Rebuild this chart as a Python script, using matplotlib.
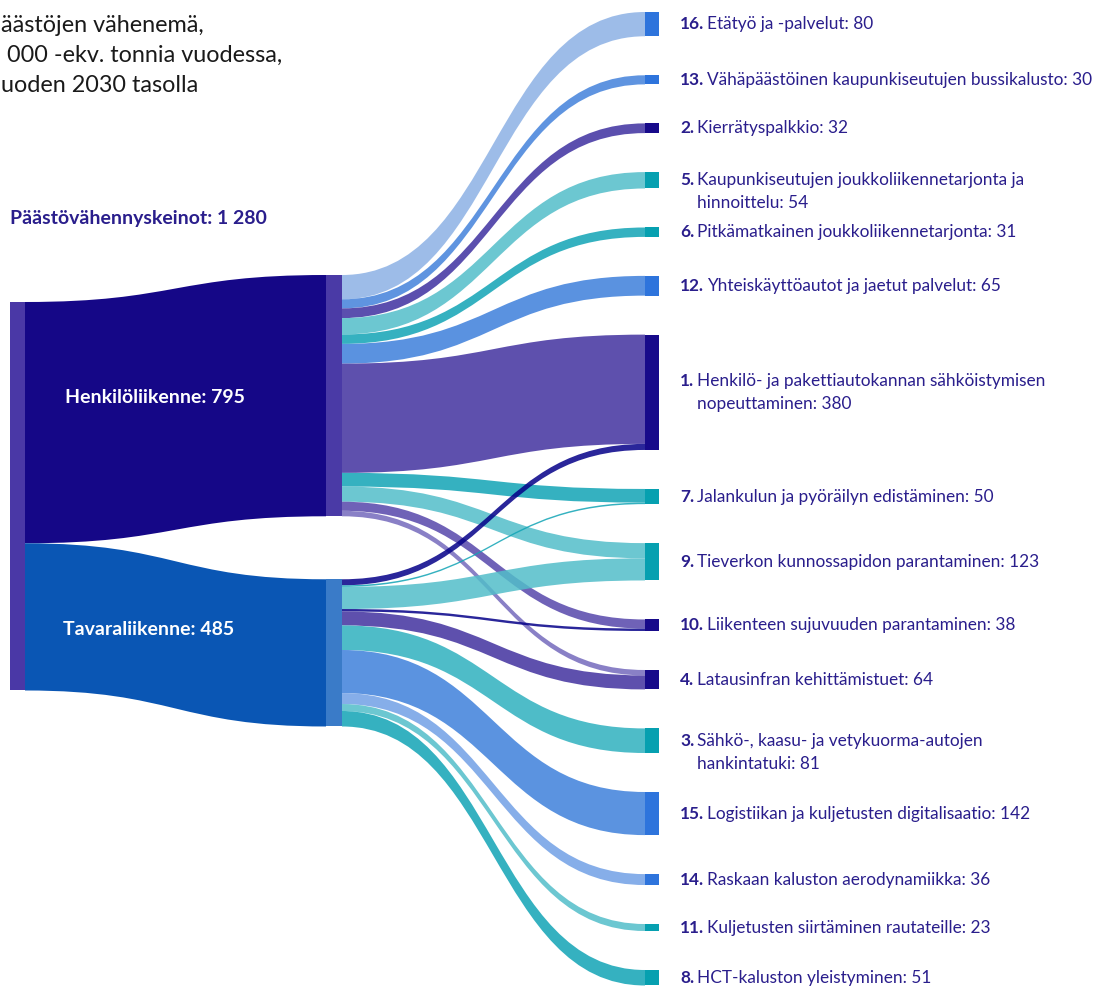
#!/usr/bin/env python
import numpy as np
import matplotlib.pyplot as plt
from matplotlib.path import Path
from matplotlib.patches import PathPatch, Rectangle
from matplotlib.colors import to_rgb

# Data
root_name = "Päästövähennyskeinot"
group_names = ["Henkilöliikenne", "Tavaraliikenne"]

measure_nums = [16, 13, 2, 5, 6, 12, 1, 7, 9, 10, 4, 3, 15, 14, 11, 8]
measure_names = [
    "Etätyö ja -palvelut",
    "Vähäpäästöinen kaupunkiseutujen bussikalusto",
    "Kierrätyspalkkio",
    "Kaupunkiseutujen joukkoliikennetarjonta ja\nhinnoittelu",
    "Pitkämatkainen joukkoliikennetarjonta",
    "Yhteiskäyttöautot ja jaetut palvelut",
    "Henkilö- ja pakettiautokannan sähköistymisen\nnopeuttaminen",
    "Jalankulun ja pyöräilyn edistäminen",
    "Tieverkon kunnossapidon parantaminen",
    "Liikenteen sujuvuuden parantaminen",
    "Latausinfran kehittämistuet",
    "Sähkö-, kaasu- ja vetykuorma-autojen\nhankintatuki",
    "Logistiikan ja kuljetusten digitalisaatio",
    "Raskaan kaluston aerodynamiikka",
    "Kuljetusten siirtäminen rautateille",
    "HCT-kaluston yleistyminen",
]
henkilo_flows = [80, 30, 32, 54, 31, 65, 360, 45, 50, 30, 18, 0, 0, 0, 0, 0]
tavara_flows = [0, 0, 0, 0, 0, 0, 20, 5, 73, 8, 46, 81, 142, 36, 23, 51]

intro_lines = ["äästöjen vähenemä,", " 000 -ekv. tonnia vuodessa,", "uoden 2030 tasolla"]

# colours
navy = "#170a8a"
blue = "#2e74dc"
teal = "#06a0b0"
node_colors = [blue, blue, navy, teal, teal, blue, navy, teal, teal, navy, navy,
               teal, blue, blue, teal, teal]
henkilo_colors = ["#9dbde9", "#5f95e0", "#5b4fae", "#6cc7d1", "#35b2c0", "#5a92e0",
                  "#5e50ad", "#35b2c0", "#6cc7d1", "#6f62b8", "#8a80c6",
                  None, None, None, None, None]
tavara_colors = [None, None, None, None, None, None,
                 "#2a1c9a", "#35b2c0", "#6cc7d1", "#2a1c9a", "#5e50ad",
                 "#4ebdc9", "#5b93e0", "#86aeea", "#6cc7d1", "#35b2c0"]
group_flow_colors = ["#150787", "#0a56b4"]
group_node_colors = ["#4a3aa6", "#3a7bc8"]
root_color = "#4a38a6"
label_color = "#2a1e8c"

# label first-line shift (in lines) for wrapped labels
label_shift = {1: -0.5}

W, H = 1104, 988
fig = plt.figure(figsize=(W / 100, H / 100), dpi=100)
ax = fig.add_axes([0, 0, 1, 1])
ax.set_xlim(0, W)
ax.set_ylim(H, 0)
ax.axis("off")

k = 0.3035  # px per unit
root_x, mid_x, right_x, node_w = 10, 326, 645, 15
root_top, mid_top, mid_gap, right_top, right_gap = 302, 275, 63, 12, 39
flow_alpha = 0.85

totals = [a + b for a, b in zip(henkilo_flows, tavara_flows)]
group_values = [sum(henkilo_flows), sum(tavara_flows)]
root_total = sum(group_values)


def base_color(c, a):
    # colour that looks like c on white when drawn with alpha a
    return tuple(np.clip((np.array(to_rgb(c)) - (1 - a)) / a, 0, 1))


def ribbon(x0, x1, a0, b0, a1, b1, color, alpha=0.9, z=1):
    xm = (x0 + x1) / 2
    verts = [(x0, a0), (xm, a0), (xm, a1), (x1, a1), (x1, b1),
             (xm, b1), (xm, b0), (x0, b0), (x0, a0)]
    codes = [Path.MOVETO, Path.CURVE4, Path.CURVE4, Path.CURVE4, Path.LINETO,
             Path.CURVE4, Path.CURVE4, Path.CURVE4, Path.CLOSEPOLY]
    ax.add_patch(PathPatch(Path(verts, codes), fc=color, ec="none", alpha=alpha, zorder=z))


# node positions
right_y = []
y = right_top
for t in totals:
    right_y.append(y)
    y += t * k + right_gap

mid_y = []
y = mid_top
for g in group_values:
    mid_y.append(y)
    y += g * k + mid_gap

# root -> groups
ax.add_patch(Rectangle((root_x, root_top), node_w, root_total * k, fc=root_color, ec="none", zorder=3))
y = root_top
for i, g in enumerate(group_values):
    ribbon(root_x + node_w, mid_x, y, y + g * k, mid_y[i], mid_y[i] + g * k,
           group_flow_colors[i], alpha=1.0)
    ax.add_patch(Rectangle((mid_x, mid_y[i]), node_w + 1, g * k, fc=group_node_colors[i],
                           ec="none", zorder=3))
    y += g * k

# groups -> measures
in_offset = [0.0] * len(totals)
for gi, (flows, cols) in enumerate([(henkilo_flows, henkilo_colors), (tavara_flows, tavara_colors)]):
    y = mid_y[gi]
    for j, v in enumerate(flows):
        if v == 0:
            continue
        ya = right_y[j] + in_offset[j]
        ribbon(mid_x + node_w + 1, right_x, y, y + v * k, ya, ya + v * k,
               base_color(cols[j], flow_alpha), alpha=flow_alpha, z=1 + gi)
        in_offset[j] += v * k
        y += v * k

for j, t in enumerate(totals):
    ax.add_patch(Rectangle((right_x, right_y[j]), 14, t * k, fc=node_colors[j], ec="none", zorder=3))

# labels
ax.text(10, 218, f"{root_name}: {root_total // 1000} {root_total % 1000:03d}", fontsize=14,
        fontweight="bold", color=label_color, family="Lato", va="center", ha="left")
ax.text(65, 397, f"{group_names[0]}: {group_values[0]}", fontsize=14, fontweight="bold",
        color="white", family="Lato", va="center", ha="left", zorder=5)
ax.text(63, 629, f"{group_names[1]}: {group_values[1]}", fontsize=14, fontweight="bold",
        color="white", family="Lato", va="center", ha="left", zorder=5)

for i, line in enumerate(intro_lines):
    ax.text(1, 25 + i * 30, line, fontsize=16.8, color="#1a1a1a", family="Lato",
            va="center", ha="left")

renderer = fig.canvas.get_renderer()
inv = ax.transData.inverted()
lh = 23
for j, num in enumerate(measure_nums):
    lines = f"{measure_names[j]}: {totals[j]}".split("\n")
    yc = right_y[j] + totals[j] * k / 2 + label_shift.get(num, 0) * lh
    nt = ax.text(680, yc, f"{num}.", fontsize=12.4, fontweight="bold", color=label_color,
                 family="Lato", va="center", ha="left")
    bb = nt.get_window_extent(renderer)
    x_rest = inv.transform((bb.x1, bb.y0))[0] + 3
    for li, line in enumerate(lines):
        ax.text(x_rest, yc + li * lh, line, fontsize=12.4, color=label_color,
                family="Lato", va="center", ha="left")

fig.savefig("out.png", dpi=100)
